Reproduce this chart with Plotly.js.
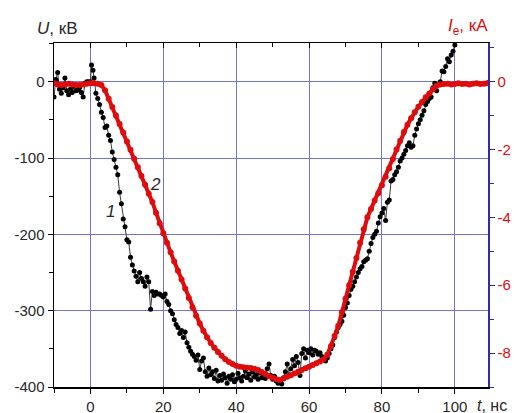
<!DOCTYPE html>
<html><head><meta charset="utf-8">
<script src="https://cdn.plot.ly/plotly-3.0.1.min.js"></script>
<style>body{margin:0;padding:0;background:#fff}#chart{width:515px;height:413px}</style>
</head><body><div id="chart"></div>
<script>
// Curve 1: voltage U, kV (left axis)
const tU = [-10,-9.5,-9,-8.5,-8,-7.5,-7,-6.5,-6,-5.5,-5,-4.5,-4,-3.5,-3,-2.5,-2,-1.5,-1,-0.5,0,0.3,0.7,1,1.5,2,2.5,3,3.5,4,4.5,5,5.5,6,6.5,7,7.5,8,8.5,9,9.5,10,10.5,11,11.5,12,12.5,13,13.5,14,14.5,15,15.5,16,16.5,17,17.5,18,18.5,19,19.5,20,20.5,21,21.5,22,22.5,23,23.5,24,24.5,25,25.5,26,26.5,27,27.5,28,28.5,29,29.5,30,30.5,31,31.5,32,32.5,33,33.5,34,34.5,35,35.5,36,36.5,37,37.5,38,38.5,39,39.5,40,40.5,41,41.5,42,42.5,43,43.5,44,44.5,45,45.5,46,46.5,47,47.5,48,48.5,49,49.5,50,50.5,51,51.5,52,52.5,53,53.5,54,54.5,55,55.5,56,56.5,57,57.5,58,58.5,59,59.5,60,60.5,61,61.5,62,62.5,63,63.5,64,64.5,65,65.5,66,66.5,67,67.5,68,68.5,69,69.5,70,70.5,71,71.5,72,72.5,73,73.5,74,74.5,75,75.5,76,76.5,77,77.5,78,78.5,79,79.5,80,80.5,81,81.5,82,82.5,83,83.5,84,84.5,85,85.5,86,86.5,87,87.5,88,88.5,89,89.5,90,90.5,91,91.5,92,92.5,93,93.5,94,94.5,95,95.5,96,96.5,97,97.5,98,98.5,99,99.5,100];
const U = [-20,3,12,-10,-15,-8,5,-12,-17,-10,-14,-6,-12,-11,-8,-14,-20,-2,0,0,0,22,15,5,-15,-22,-30,-40,-47,-60,-58,-70,-77,-92,-102,-112,-122,-145,-160,-180,-190,-207,-210,-230,-240,-248,-255,-262,-250,-258,-262,-268,-256,-262,-298,-275,-280,-276,-278,-278,-280,-282,-278,-288,-292,-300,-304,-312,-318,-322,-330,-326,-335,-328,-342,-348,-353,-357,-360,-365,-358,-377,-366,-362,-380,-386,-375,-384,-380,-389,-378,-392,-385,-391,-383,-388,-395,-386,-390,-384,-393,-390,-382,-388,-392,-386,-379,-388,-383,-391,-380,-387,-384,-390,-381,-388,-384,-389,-376,-370,-385,-390,-386,-392,-395,-391,-396,-388,-380,-370,-385,-376,-364,-372,-360,-368,-385,-356,-350,-362,-352,-355,-350,-358,-352,-353,-357,-355,-360,-362,-366,-362,-356,-350,-345,-335,-328,-322,-318,-314,-306,-296,-290,-280,-272,-268,-262,-256,-250,-245,-242,-236,-234,-232,-222,-212,-204,-200,-196,-185,-177,-172,-166,-182,-158,-155,-130,-128,-122,-118,-112,-104,-100,-95,-90,-84,-80,-86,-84,-70,-62,-55,-50,-44,-38,-30,-26,-22,-20,-8,-2,-12,-4,0,14,13,20,30,26,35,40,48];
// Curve 2: electron current Ie, kA (right axis)
const tI = [-10,-9,-8,-7,-6,-5,-4,-3,-2,-1,0,1,2,3,4,5,6,7,8,9,10,11,12,13,14,15,16,17,18,19,20,21,22,23,24,25,26,27,28,29,30,31,32,33,34,35,36,37,38,39,40,41,42,43,44,45,46,47,48,49,50,51,52,53,54,55,56,57,58,59,60,61,62,63,64,65,66,67,68,69,70,71,72,73,74,75,76,77,78,79,80,81,82,83,84,85,86,87,88,89,90,91,92,93,94,95,96,97,98,99,100,101,102,103,104,105,106,107,108,109];
const Ie = [-0.05,-0.08,-0.1,-0.08,-0.06,-0.08,-0.1,-0.1,-0.08,-0.06,-0.05,-0.05,-0.06,-0.1,-0.25,-0.5,-0.75,-1.0,-1.25,-1.5,-1.76,-2.01,-2.27,-2.52,-2.78,-3.04,-3.3,-3.55,-3.86,-4.17,-4.47,-4.75,-5.03,-5.3,-5.57,-5.83,-6.1,-6.38,-6.65,-6.9,-7.13,-7.34,-7.53,-7.7,-7.84,-7.97,-8.08,-8.18,-8.26,-8.32,-8.37,-8.4,-8.42,-8.43,-8.44,-8.46,-8.5,-8.56,-8.62,-8.68,-8.73,-8.77,-8.79,-8.75,-8.7,-8.65,-8.6,-8.55,-8.5,-8.45,-8.4,-8.35,-8.3,-8.25,-8.18,-8.05,-7.8,-7.5,-7.2,-6.8,-6.4,-6.0,-5.6,-5.2,-4.75,-4.35,-4.0,-3.75,-3.5,-3.29,-3.05,-2.8,-2.55,-2.28,-2.0,-1.74,-1.48,-1.27,-1.08,-0.9,-0.74,-0.6,-0.46,-0.35,-0.22,-0.12,-0.08,-0.07,-0.06,-0.08,-0.07,-0.05,-0.07,-0.06,-0.08,-0.06,-0.05,-0.07,-0.06,-0.04];
const xTicks = [0,20,40,60,80,100];
const xTickText = ['0','20','40','60','80','100'];
const yTicks = [0,-100,-200,-300,-400];
const yTickText = ['0','-100','-200','-300','-400'];
const y2Ticks = [0,-2,-4,-6,-8];
const y2TickText = ['0','-2','-4','-6','-8'];

const red = 'rgb(222,12,12)';
const blue = 'rgb(45,45,175)';
const gridc = 'rgb(115,115,215)';
const txt = 'rgb(40,40,40)';
const fnt = 'Liberation Sans, Arial, sans-serif';

const traces = [
  {x: tU, y: U, type: 'scatter', mode: 'lines+markers', xaxis: 'x', yaxis: 'y',
   line: {color: 'rgb(60,60,60)', width: 1}, marker: {color: '#000', size: 5}},
  {x: tI, y: Ie, type: 'scatter', mode: 'lines+markers', xaxis: 'x', yaxis: 'y2',
   line: {color: red, width: 4}, marker: {color: red, size: 6}}
];

const layout = {
  width: 515, height: 413,
  margin: {l: 54, r: 27, t: 43, b: 26},
  paper_bgcolor: '#fff', plot_bgcolor: '#fff',
  showlegend: false,
  font: {family: fnt, size: 15, color: txt},
  xaxis: {range: [-10, 109.1], tickvals: xTicks, ticktext: xTickText, ticks: 'outside', ticklen: 5, tickcolor: '#000',
    showline: true, linecolor: '#000', linewidth: 1.5, mirror: true,
    showgrid: true, gridcolor: gridc, gridwidth: 1, zeroline: false,
    minor: {dtick: 10, ticks: 'outside', ticklen: 4, tickcolor: '#000', showgrid: false},
    tickfont: {size: 15, color: txt}},
  xaxis2: {overlaying: 'x', side: 'top', range: [-10, 109.1], tickvals: xTicks, ticks: 'inside', ticklen: 5,
    tickcolor: '#000', showticklabels: false, showgrid: false, zeroline: false, showline: false,
    minor: {dtick: 10, ticks: 'inside', ticklen: 4, tickcolor: '#000', showgrid: false}},
  yaxis: {range: [-400, 50.7], tickvals: yTicks, ticktext: yTickText, ticks: 'outside', ticklen: 5, tickcolor: '#000',
    showline: true, linecolor: '#000', linewidth: 1.5,
    showgrid: true, gridcolor: gridc, gridwidth: 1, zeroline: false,
    minor: {dtick: 50, ticks: 'outside', ticklen: 4, tickcolor: '#000', showgrid: false},
    tickfont: {size: 15, color: txt}},
  yaxis2: {overlaying: 'y', side: 'right', range: [-9.0, 1.14], tickvals: y2Ticks, ticktext: y2TickText, ticks: 'outside', ticklen: 5,
    tickcolor: blue, showline: true, linecolor: blue, linewidth: 1.5, showgrid: false, zeroline: false,
    minor: {dtick: 1, ticks: 'outside', ticklen: 4, tickcolor: blue, showgrid: false},
    tickfont: {size: 15, color: red}},
  annotations: [
    {xref: 'paper', yref: 'paper', x: -0.043, y: 1.041, xanchor: 'left', yanchor: 'middle', showarrow: false,
     text: '<i>U</i>, кВ', font: {size: 17, color: txt, family: fnt}},
    {xref: 'paper', yref: 'paper', x: 1.005, y: 1.047, xanchor: 'right', yanchor: 'middle', showarrow: false,
     text: '<i>I</i><sub>e</sub>, кА', font: {size: 17, color: red, family: fnt}},
    {xref: 'paper', yref: 'paper', x: 0.97, y: -0.055, xanchor: 'left', yanchor: 'middle', showarrow: false,
     text: '<i>t</i>, нс', font: {size: 16, color: txt, family: fnt}},
    {xref: 'x', yref: 'y', x: 5.5, y: -170, showarrow: false, text: '<i>1</i>', font: {size: 17, color: txt, family: fnt}},
    {xref: 'x', yref: 'y', x: 17.8, y: -135, showarrow: false, text: '<i>2</i>', font: {size: 17, color: txt, family: fnt}}
  ]
};
// invisible helper trace so the top axis draws its ticks
traces.push({x: [-10], y: [null], xaxis: 'x2', yaxis: 'y', type: 'scatter', mode: 'markers', hoverinfo: 'skip', showlegend: false});
Plotly.newPlot('chart', traces, layout, {staticPlot: true, displayModeBar: false});
</script></body></html>
